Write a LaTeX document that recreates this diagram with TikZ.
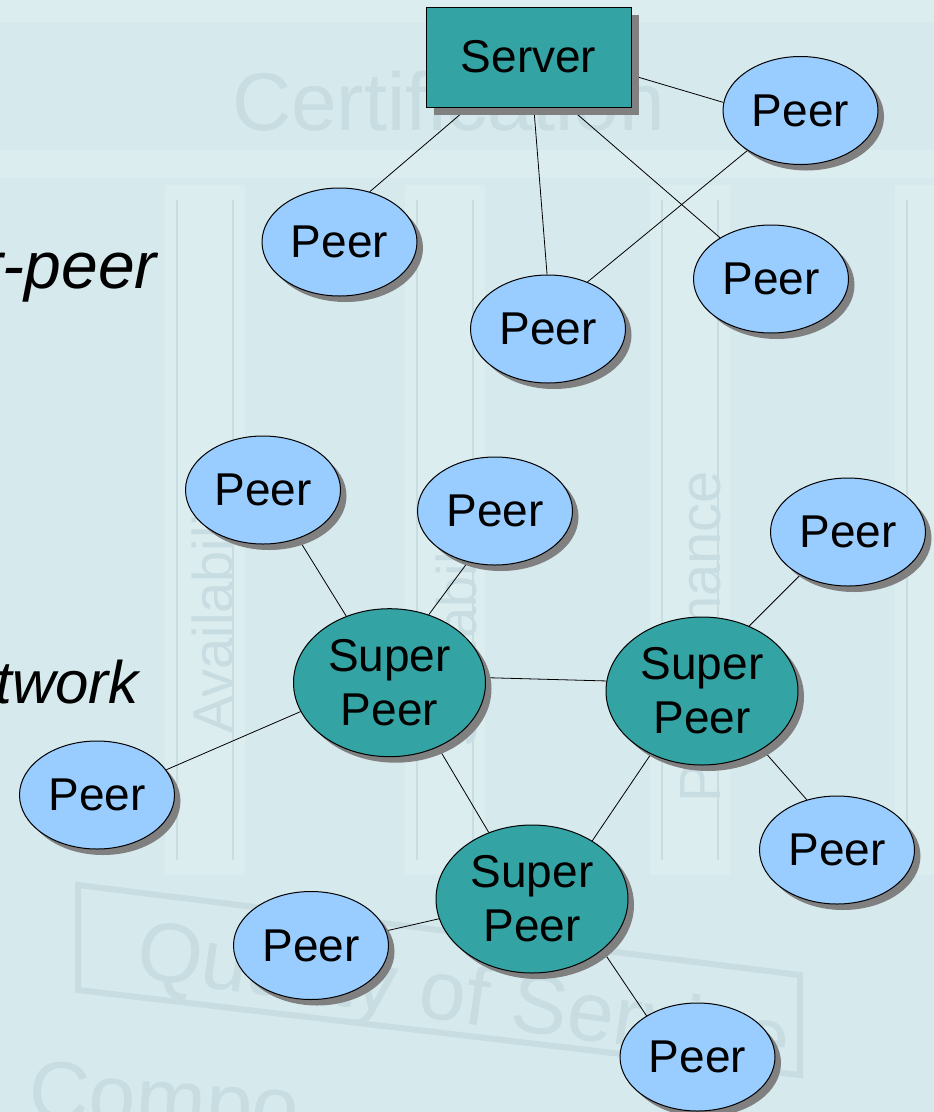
\documentclass[tikz,border=0pt]{standalone}
\usepackage{fontspec}
\setmainfont{Liberation Sans}
\usetikzlibrary{shapes.geometric,shadows}

\definecolor{slidebg}{HTML}{D6E9ED}
\definecolor{wmark}{HTML}{C8DDE1}
\definecolor{wlight}{HTML}{DCEDF0}
\definecolor{spteal}{HTML}{33A3A3}
\definecolor{peerblue}{HTML}{99CCFF}
\definecolor{shadowgray}{HTML}{808080}

\pgfdeclarelayer{back}
\pgfdeclarelayer{links}
\pgfsetlayers{back,links,main}

\tikzset{
  peer/.style={ellipse, draw=black, line width=1pt, fill=peerblue,
    minimum width=155pt, minimum height=108pt, inner sep=0pt,
    font=\fontsize{46}{54}\selectfont,
    drop shadow={shadow xshift=6pt, shadow yshift=-6pt, fill=shadowgray, opacity=1}},
  superpeer/.style={peer, fill=spteal, minimum width=192pt, minimum height=148pt, align=center},
  server/.style={rectangle, draw=black, line width=1pt, fill=spteal,
    minimum width=205pt, minimum height=100pt, inner sep=0pt,
    font=\fontsize{46}{54}\selectfont,
    drop shadow={shadow xshift=8pt, shadow yshift=-8pt, fill=shadowgray, opacity=1}},
  link/.style={draw=black, line width=0.8pt},
  sidetext/.style={anchor=base east, inner sep=0pt, font=\itshape\fontsize{66}{70}\selectfont},
  wmtext/.style={text=wmark, inner sep=0pt},
  wmcol/.style={fill=wlight},
}

\begin{document}
\begin{tikzpicture}[x=1pt, y=-1pt]
\useasboundingbox (0,0) rectangle (934,1112);

% faint slide backdrop: temple of columns with a roof and a base
\begin{pgfonlayer}{back}
  \fill[slidebg] (0,0) rectangle (934,1112);
  \fill[wlight] (0,0) rectangle (934,22);
  \fill[wlight] (0,150) rectangle (934,178);
  \foreach \cx in {165,405,650,895} {
    \fill[wmcol] (\cx,185) rectangle ++(80,690);
    \draw[wmark, line width=2pt] (\cx+12,200) -- ++(0,660);
    \draw[wmark, line width=2pt] (\cx+68,200) -- ++(0,660);
  }
  \node[wmtext, anchor=base west, font=\fontsize{82}{82}\selectfont] (wcert) at (232,130) {Certification};
  \node[wmtext, anchor=base west, rotate=90, font=\fontsize{56}{56}\selectfont] (wavail) at (232,734) {Availability};
  \node[wmtext, anchor=base west, rotate=90, font=\fontsize{56}{56}\selectfont] (wscal) at (476,748) {Scalability};
  \node[wmtext, anchor=base west, rotate=90, font=\fontsize{58}{58}\selectfont] (wperf) at (720,803) {Performance};
  \draw[wmark, line width=6pt] (78,885) -- (800,975) -- (800,1075) -- (78,990) -- cycle;
  \node[wmtext, anchor=base west, rotate=-8, font=\fontsize{84}{84}\selectfont] (wqos) at (134,977) {Quality of Service};
  \node[wmtext, anchor=base west, rotate=-4, font=\fontsize{84}{84}\selectfont] (wcomp) at (27,1118) {Compo};
\end{pgfonlayer}

% side captions, partly beyond the left edge
\node[sidetext] (cap1) at (157,288) {r-peer};
\node[sidetext, font=\itshape\fontsize{60}{64}\selectfont] (cap2) at (139,703) {twork};

% server-based network
\node[server] (srv) at (528.5,57) {Server};
\node[peer] (p1) at (800.5,110.5) {Peer};
\node[peer] (p2) at (339.5,242) {Peer};
\node[peer] (p3) at (548,329) {Peer};
\node[peer] (p4) at (771,279) {Peer};

% super-peer network
\node[peer] (pa) at (263,490) {Peer};
\node[peer] (pb) at (495,511) {Peer};
\node[peer] (pc) at (848,532) {Peer};
\node[superpeer] (s1) at (389.5,682.7) {Super\\Peer};
\node[superpeer] (s2) at (702,691) {Super\\Peer};
\node[superpeer] (s3) at (532,899) {Super\\Peer};
\node[peer] (pd) at (97,795) {Peer};
\node[peer] (pe) at (837,850) {Peer};
\node[peer] (pf) at (311,945.5) {Peer};
\node[peer] (pg) at (697.5,1057) {Peer};

\begin{pgfonlayer}{links}
  \draw[link] (srv.-10.5) -- (p1.174.4);
  \draw[link] (srv.220.4) -- (p2.59.5);
  \draw[link] (srv.-84.9) -- (p3.91.3);
  \draw[link] (srv.-51.9) -- (p4.141);
  \draw[link] (p1.217.6) -- (p3.50.7);

  \draw[link] (pa.-54.1) -- (s1.123.4);
  \draw[link] (pb.242) -- (s1.60.4);
  \draw[link] (pc.222.9) -- (s2.54.5);
  \draw[link] (s1.3.4) -- (s2.174);
  \draw[link] (pd.20.8) -- (s1.198.5);
  \draw[link] (s1.-53.8) -- (s3.123.4);
  \draw[link] (s2.231) -- (s3.44.4);
  \draw[link] (s2.-44.8) -- (pe.121.2);
  \draw[link] (s3.192.3) -- (pf.11.7);
  \draw[link] (s3.-36.7) -- (pg.141.6);
\end{pgfonlayer}
\end{tikzpicture}
\end{document}
